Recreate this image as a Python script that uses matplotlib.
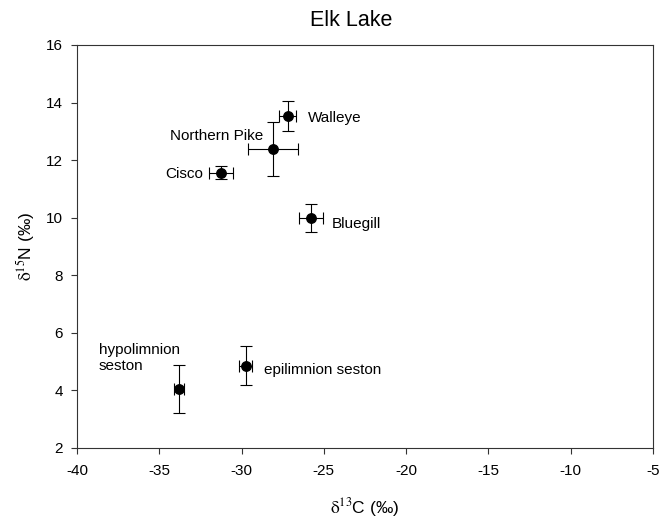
import matplotlib.pyplot as plt

plt.rcParams['font.family'] = ['Liberation Sans', 'DejaVu Sans']
plt.rcParams['mathtext.fontset'] = 'stix'
plt.rcParams['axes.unicode_minus'] = False

# data: mean d13C, d15N with error bars
names = ['Walleye', 'Northern Pike', 'Cisco', 'Bluegill',
         'epilimnion seston', 'hypolimnion\nseston']
d13c = [-27.2, -28.1, -31.25, -25.8, -29.75, -33.8]
d15n = [13.53, 12.39, 11.57, 9.98, 4.86, 4.05]
c_err = [0.5, 1.53, 0.73, 0.73, 0.4, 0.32]
n_err = [0.52, 0.95, 0.22, 0.48, 0.68, 0.82]

# label offsets in points (dx, dy, ha)
offsets = [(14.8, 0, 'left'), (-7.2, 10.6, 'right'), (-12.7, 0, 'right'),
           (14.9, -3.2, 'left'), (13, -1.7, 'left'), (-57.6, 24, 'left')]

fig = plt.figure(figsize=(6.61, 5.2), dpi=100)
ax = fig.add_axes([0.1165, 0.1385, 0.8714, 0.775])

ax.errorbar(d13c, d15n, xerr=c_err, yerr=n_err, fmt='o', color='black',
            ms=6.8, ecolor='black', elinewidth=0.8, capsize=4, capthick=0.8)

for nm, x, y, (dx, dy, ha) in zip(names, d13c, d15n, offsets):
    ax.annotate(nm, xy=(x, y), xytext=(dx, dy), textcoords='offset points',
                ha=ha, va='center_baseline', fontsize=11, multialignment='left')

ax.set_xlim(-40, -5)
ax.set_ylim(2, 16)
ax.set_xticks(range(-40, 0, 5))
ax.set_yticks(range(2, 17, 2))
ax.tick_params(direction='out', length=4.3, width=0.8, labelsize=11,
               top=False, right=False, color='#333333')
ax.tick_params(axis='x', pad=7.3)
ax.tick_params(axis='y', pad=6)
for s in ax.spines.values():
    s.set_linewidth(0.8)
    s.set_color('#333333')

ax.set_xlabel(r'$\mathrm{\delta}^{\mathrm{13}}$C (‰)', fontsize=12.5, labelpad=13)
ax.set_ylabel(r'$\mathrm{\delta}^{\mathrm{15}}$N (‰)', fontsize=12.5, labelpad=6)
fig.text(351 / 661, 1 - 20 / 520, 'Elk Lake', ha='center', va='center', fontsize=15.5)

fig.savefig('out.png', dpi=100)
